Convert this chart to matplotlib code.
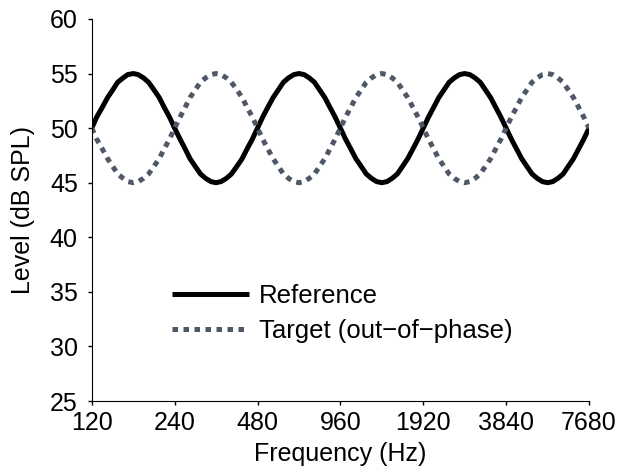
import matplotlib
matplotlib.use("Agg")
import matplotlib.pyplot as plt

# frequencies read at 1/16-octave steps (Hz)
freqs = [120, 125, 131, 137, 143, 149, 156, 162,
         170, 177, 185, 193, 202, 211, 220, 230,
         240, 251, 262, 273, 285, 298, 311, 325,
         339, 354, 370, 386, 404, 422, 440, 460,
         480, 501, 523, 547, 571, 596, 622, 650,
         679, 709, 740, 773, 807, 843, 880, 919,
         960, 1002, 1047, 1093, 1142, 1192, 1245, 1300,
         1358, 1418, 1480, 1546, 1615, 1686, 1761, 1839,
         1920, 2005, 2094, 2186, 2283, 2384, 2490, 2600,
         2715, 2835, 2961, 3092, 3229, 3372, 3521, 3677,
         3840, 4010, 4188, 4373, 4567, 4769, 4980, 5200,
         5431, 5671, 5922, 6184, 6458, 6744, 7043, 7355,
         7680]

reference = [50, 51, 51.9, 52.8, 53.5, 54.2, 54.6, 54.9,
             55, 54.9, 54.6, 54.2, 53.5, 52.8, 51.9, 51,
             50, 49, 48.1, 47.2, 46.5, 45.8, 45.4, 45.1,
             45, 45.1, 45.4, 45.8, 46.5, 47.2, 48.1, 49,
             50, 51, 51.9, 52.8, 53.5, 54.2, 54.6, 54.9,
             55, 54.9, 54.6, 54.2, 53.5, 52.8, 51.9, 51,
             50, 49, 48.1, 47.2, 46.5, 45.8, 45.4, 45.1,
             45, 45.1, 45.4, 45.8, 46.5, 47.2, 48.1, 49,
             50, 51, 51.9, 52.8, 53.5, 54.2, 54.6, 54.9,
             55, 54.9, 54.6, 54.2, 53.5, 52.8, 51.9, 51,
             50, 49, 48.1, 47.2, 46.5, 45.8, 45.4, 45.1,
             45, 45.1, 45.4, 45.8, 46.5, 47.2, 48.1, 49,
             50]

target = [50, 49, 48.1, 47.2, 46.5, 45.8, 45.4, 45.1,
          45, 45.1, 45.4, 45.8, 46.5, 47.2, 48.1, 49,
          50, 51, 51.9, 52.8, 53.5, 54.2, 54.6, 54.9,
          55, 54.9, 54.6, 54.2, 53.5, 52.8, 51.9, 51,
          50, 49, 48.1, 47.2, 46.5, 45.8, 45.4, 45.1,
          45, 45.1, 45.4, 45.8, 46.5, 47.2, 48.1, 49,
          50, 51, 51.9, 52.8, 53.5, 54.2, 54.6, 54.9,
          55, 54.9, 54.6, 54.2, 53.5, 52.8, 51.9, 51,
          50, 49, 48.1, 47.2, 46.5, 45.8, 45.4, 45.1,
          45, 45.1, 45.4, 45.8, 46.5, 47.2, 48.1, 49,
          50, 51, 51.9, 52.8, 53.5, 54.2, 54.6, 54.9,
          55, 54.9, 54.6, 54.2, 53.5, 52.8, 51.9, 51,
          50]

xticks = [120, 240, 480, 960, 1920, 3840, 7680]
yticks = [25, 30, 35, 40, 45, 50, 55, 60]

plt.rcParams['font.family'] = ['Liberation Sans', 'DejaVu Sans']
plt.rcParams['font.size'] = 18

fig = plt.figure(figsize=(6.2, 4.74), dpi=100)
ax = fig.add_axes([0.148, 0.154, 0.802, 0.806])

ax.plot(freqs, reference, color='black', lw=3.6, solid_capstyle='butt',
        solid_joinstyle='round', label='Reference')
ax.plot(freqs, target, color='#4f5867', lw=3.6, dashes=(1.1, 1.1),
        dash_capstyle='butt', label='Target (out\u2212of\u2212phase)')

ax.set_xscale('log', base=2)
ax.set_xlim(120, 7680)
ax.set_ylim(25, 60)
ax.set_xticks(xticks)
ax.set_xticklabels([str(t) for t in xticks])
ax.minorticks_off()
ax.set_yticks(yticks)

for s in ['top', 'right']:
    ax.spines[s].set_visible(False)
ax.tick_params(direction='out', length=3, width=1)
ax.tick_params(axis='x', pad=4)
ax.tick_params(axis='y', pad=7)

ax.set_xlabel('Frequency (Hz)', labelpad=5)
ax.set_ylabel('Level (dB SPL)', labelpad=11)

ax.legend(loc='upper left', bbox_to_anchor=(0.161, 0.305), frameon=False,
          fontsize=18.5, borderpad=0, borderaxespad=0, handlelength=3.0,
          handletextpad=0.39, labelspacing=0.41)

fig.savefig('out.png', dpi=100)
